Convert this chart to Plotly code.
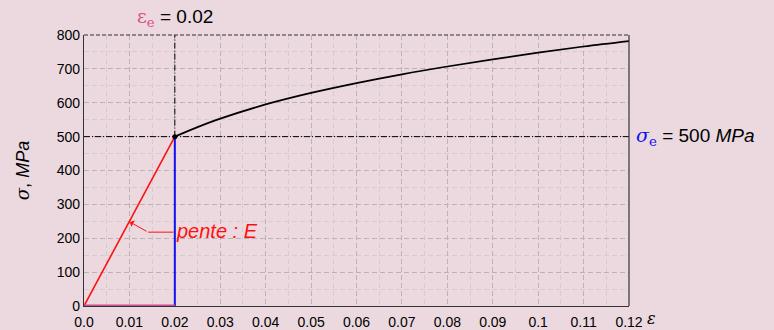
import plotly.graph_objects as go

# data
eps_elastic = [0.0, 0.02]
sig_elastic = [0, 500]

eps_plastic = [0.02, 0.025, 0.03, 0.04, 0.05, 0.06, 0.07, 0.08, 0.09, 0.10, 0.11, 0.12]
sig_plastic = [500, 528, 553, 595, 629, 658, 684, 707, 728, 748, 766, 782]

eps_e = 0.02
sig_e = 500
x_max = 0.12
y_max = 800

x_ticks = [0.0, 0.01, 0.02, 0.03, 0.04, 0.05, 0.06, 0.07, 0.08, 0.09, 0.10, 0.11, 0.12]
x_ticktext = ['0.0', '0.01', '0.02', '0.03', '0.04', '0.05', '0.06', '0.07', '0.08',
              '0.09', '0.1', '0.11', '0.12']
y_ticks = [0, 100, 200, 300, 400, 500, 600, 700, 800]

bg = '#EBD9DF'
font = 'Liberation Sans, Arial, sans-serif'

fig = go.Figure()

# reference lines (dash-dot)
fig.add_trace(go.Scatter(x=[0, x_max], y=[sig_e, sig_e], mode='lines',
                         line=dict(color='black', width=1, dash='6px,2px,1px,2px'), hoverinfo='skip'))
fig.add_trace(go.Scatter(x=[eps_e, eps_e], y=[sig_e, y_max], mode='lines',
                         line=dict(color='black', width=1, dash='6px,2px,1px,2px'), hoverinfo='skip'))

# blue vertical
fig.add_trace(go.Scatter(x=[eps_e, eps_e], y=[0, sig_e], mode='lines',
                         line=dict(color='#1010F0', width=2)))
# elastic part
fig.add_trace(go.Scatter(x=eps_elastic, y=sig_elastic, mode='lines',
                         line=dict(color='#FF1010', width=1.6)))
# magenta segment on the x axis
fig.add_trace(go.Scatter(x=[0, eps_e], y=[0, 0], mode='lines',
                         line=dict(color='#CC4F8C', width=3), cliponaxis=False))
# plastic part
fig.add_trace(go.Scatter(x=eps_plastic, y=sig_plastic, mode='lines',
                         line=dict(color='black', width=1.7, shape='spline'), cliponaxis=False))
# yield point
fig.add_trace(go.Scatter(x=[eps_e], y=[sig_e], mode='markers',
                         marker=dict(color='black', size=5)))

# bent leader for "pente : E"
fig.add_trace(go.Scatter(x=[0.0197, 0.0141], y=[218, 218], mode='lines',
                         line=dict(color='#FF1010', width=1)))
fig.add_annotation(x=0.0101, y=248, ax=0.0141, ay=218, axref='x', ayref='y',
                   xref='x', yref='y', text='', showarrow=True,
                   arrowhead=1, arrowsize=1.2, arrowwidth=1, arrowcolor='#FF1010')
fig.add_annotation(x=0.0198, y=220, xref='x', yref='y', text='<i>pente : E</i>',
                   showarrow=False, xanchor='left', yanchor='middle',
                   font=dict(color='#FF1010', size=20, family=font))

# top label
fig.add_annotation(x=eps_e, y=1.01, xref='x', yref='paper', yanchor='bottom',
                   text='<span style="color:#D9508A;font-family:\'DejaVu Serif\'">ε<sub>e</sub></span> = 0.02',
                   showarrow=False, font=dict(size=19, color='black', family=font))
# right label
fig.add_annotation(x=1.01, y=sig_e, xref='paper', yref='y', xanchor='left',
                   text='<span style="color:#1010F0;font-family:\'DejaVu Serif\'"><i>σ</i><sub>e</sub></span> = 500 <i>MPa</i>',
                   showarrow=False, font=dict(size=19, color='black', family=font))
# x axis label
fig.add_annotation(x=1.03, y=-0.045, xref='paper', yref='paper', xanchor='left', yanchor='middle',
                   text='<i>ε</i>', showarrow=False,
                   font=dict(size=16, color='black', family='DejaVu Serif'))

# frame: solid right, dashed top
fig.add_shape(type='line', x0=1, x1=1, y0=0, y1=1, xref='paper', yref='paper',
              line=dict(color='#333333', width=1.2))
fig.add_shape(type='line', x0=0, x1=1, y0=1, y1=1, xref='paper', yref='paper',
              line=dict(color='#333333', width=1.2, dash='4px,2px'))

grid_major = '#BBB2B5'
grid_minor = '#D6CBCF'

fig.update_xaxes(range=[0, x_max], tickvals=x_ticks, ticktext=x_ticktext,
                 showline=True, linecolor='#333333', linewidth=1.2, automargin=False,
                 showgrid=True, gridcolor=grid_major, griddash='5px,3px', gridwidth=1,
                 minor=dict(dtick=0.005, showgrid=True, gridcolor=grid_minor, griddash='5px,3px'),
                 ticks='', zeroline=False, layer='below traces', ticklabelstandoff=3,
                 tickfont=dict(size=14, color='black', family=font))
fig.update_yaxes(range=[0, y_max], tickvals=y_ticks, automargin=False,
                 showline=True, linecolor='#333333', linewidth=1.2,
                 showgrid=True, gridcolor=grid_major, griddash='5px,3px', gridwidth=1,
                 minor=dict(dtick=50, showgrid=True, gridcolor=grid_minor, griddash='5px,3px'),
                 ticks='', zeroline=False, layer='below traces',
                 tickfont=dict(size=14, color='black', family=font),
                 title=dict(text='<span style="font-family:\'DejaVu Serif\'"><i>σ</i></span>, <i>MPa</i>',
                            font=dict(size=18, color='black', family=font), standoff=22))

fig.update_layout(width=774, height=330, showlegend=False,
                  paper_bgcolor=bg, plot_bgcolor=bg,
                  margin=dict(l=84, r=145, t=35, b=24))

# the page's default body margin would shift the figure by 8px
fig.write_html('out.html', config={'displayModeBar': False},
               post_script="document.body.style.margin='0';document.body.style.background='%s';" % bg)
